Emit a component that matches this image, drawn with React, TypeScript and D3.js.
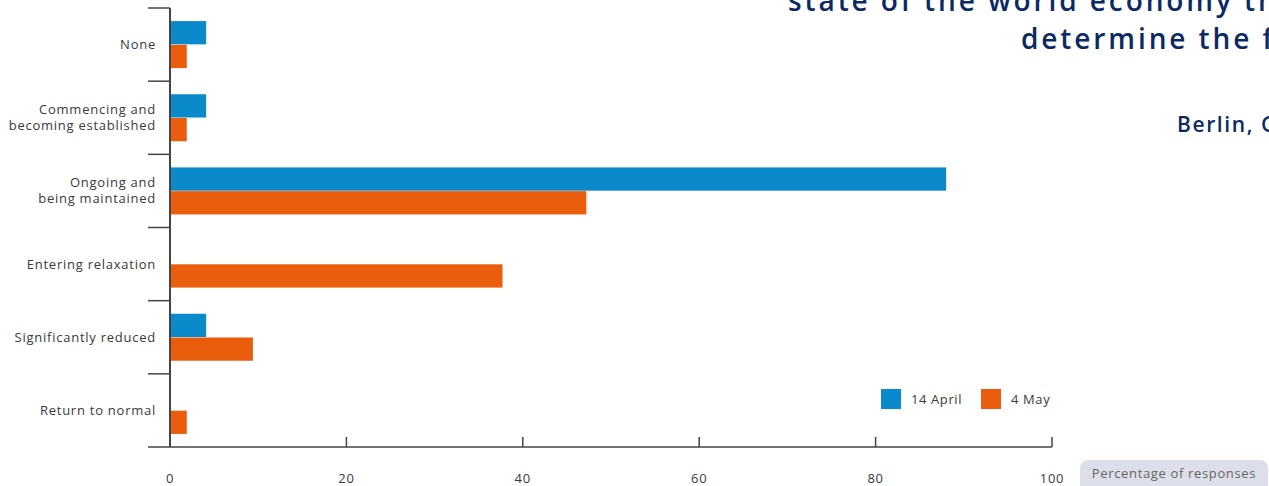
import React from "react";
import * as d3 from "d3";

const categories = [
  ["None"],
  ["Commencing and", "becoming established"],
  ["Ongoing and", "being maintained"],
  ["Entering relaxation"],
  ["Significantly reduced"],
  ["Return to normal"],
];
const seriesNames = ["14 April", "4 May"];
const april = [4.1, 4.1, 88.0, 0, 4.1, 0];
const may = [1.9, 1.9, 47.2, 37.7, 9.4, 1.9];
const xTicks = [0, 20, 40, 60, 80, 100];
const colors = ["#0a89cb", "#ea5d0c"];

const W = 1269;
const H = 486;
const FONT = "'Open Sans', Lato, sans-serif";
const LS = 0.75;

export default function App() {
  const x = d3.scaleLinear().domain([0, 100]).range([170, 1052]);
  const keys = categories.map((_, i) => String(i));
  const y = d3.scaleBand().domain(keys).range([8, 447]).paddingInner(0);
  const bw = y.bandwidth();
  const inner = d3
    .scaleBand()
    .domain(seriesNames)
    .range([bw / 2 - 23.5, bw / 2 + 23.5])
    .paddingInner(0.02);
  const values = [april, may];
  const axisColor = "#444";

  return (
    <svg
      width={W}
      height={H}
      style={{ position: "absolute", left: 0, top: 0, display: "block" }}
      fontFamily={FONT}
    >
      {/* title fragments */}
      <g fill="#0b2a63" fontWeight={600}>
        <text x={788} y={11} fontSize={28} letterSpacing={2.9}>
          state of the world economy that will
        </text>
        <text x={1021} y={49} fontSize={28} letterSpacing={2.9}>
          determine the future
        </text>
        <text x={1177} y={132} fontSize={21} letterSpacing={1.6}>
          Berlin, Germany
        </text>
      </g>

      {/* bars */}
      {values.map((vals, si) =>
        vals.map((v, ci) =>
          v > 0 ? (
            <rect
              key={`${si}-${ci}`}
              x={x(0)}
              y={(y(String(ci)) as number) + (inner(seriesNames[si]) as number)}
              width={x(v) - x(0)}
              height={inner.bandwidth()}
              fill={colors[si]}
            />
          ) : null
        )
      )}

      {/* y axis */}
      <line x1={170} x2={170} y1={8} y2={447} stroke={axisColor} strokeWidth={2} />
      {keys.map((k) => (
        <line
          key={"yt" + k}
          x1={148}
          x2={170}
          y1={y(k) as number}
          y2={y(k) as number}
          stroke={axisColor}
          strokeWidth={1.5}
        />
      ))}
      {categories.map((lines, i) => {
        const cy = (y(String(i)) as number) + bw / 2;
        const lh = 16;
        const start = cy - ((lines.length - 1) * lh) / 2;
        return (
          <text
            key={"yl" + i}
            textAnchor="end"
            fontSize={13}
            fill="#3a3a3a"
            letterSpacing={LS}
          >
            {lines.map((l, j) => (
              <tspan key={j} x={156} y={start + j * lh + 4.5}>
                {l}
              </tspan>
            ))}
          </text>
        );
      })}

      {/* x axis */}
      <line x1={148} x2={1052} y1={447} y2={447} stroke={axisColor} strokeWidth={1.5} />
      {xTicks.map((t) => (
        <g key={"xt" + t}>
          {t > 0 && (
            <line
              x1={x(t)}
              x2={x(t)}
              y1={437}
              y2={447}
              stroke={axisColor}
              strokeWidth={1.5}
            />
          )}
          <text
            x={x(t)}
            y={483}
            textAnchor="middle"
            fontSize={13}
            fill="#3a3a3a"
            letterSpacing={LS}
          >
            {t}
          </text>
        </g>
      ))}

      {/* legend */}
      {seriesNames.map((s, i) => (
        <g key={s} transform={`translate(${881 + i * 100},389)`}>
          <rect width={20} height={20} fill={colors[i]} />
          <text x={30} y={15} fontSize={13} fill="#3a3a3a" letterSpacing={0.6}>
            {s}
          </text>
        </g>
      ))}

      {/* axis title pill */}
      <rect x={1080} y={460} width={188} height={32} rx={8} fill="#dcdeea" />
      <text
        x={1174}
        y={478}
        textAnchor="middle"
        fontSize={13}
        fill="#666"
        letterSpacing={0.65}
      >
        Percentage of responses
      </text>
    </svg>
  );
}
